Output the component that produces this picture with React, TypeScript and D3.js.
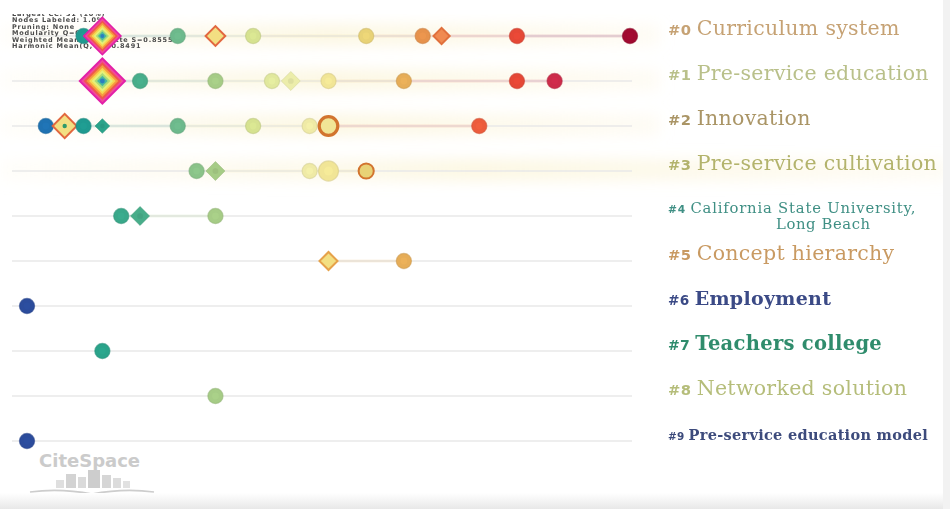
import React from 'react';
import * as d3 from 'd3';

const W = 950;
const H = 509;

const clusterIds = [0, 1, 2, 3, 4, 5, 6, 7, 8, 9];
const clusterLabels = [
  'Curriculum system',
  'Pre-service education',
  'Innovation',
  'Pre-service cultivation',
  'California State University,|Long Beach',
  'Concept hierarchy',
  'Employment',
  'Teachers college',
  'Networked solution',
  'Pre-service education model',
];
const labelColors = ['#c6a274', '#b9c08a', '#aa9566', '#b3b36c', '#3f8f84', '#c99a62', '#3b4a86', '#2f8c6c', '#b5bd7a', '#3d4b7c'];
const labelSizes = [20.5, 20.5, 20.5, 20.5, 14.8, 20.5, 19, 19.5, 20.5, 14.5];
const labelBold = [false, false, false, false, false, false, true, true, false, true];

const yearStops = [1990, 1991, 1993, 1994, 1996, 1998, 2000, 2002, 2004, 2005, 2006, 2008, 2010, 2011, 2012, 2014, 2016, 2018, 2022];
const yearColors = ['#2c4c9c', '#1f72b2', '#1f9a90', '#2aa38a', '#48ad8a', '#6db98c', '#a6cc86', '#d6e290', '#ecedaa', '#efeaa6', '#f1e596', '#e8d276', '#e6ad58', '#e6924c', '#ea7c46', '#ec5c3c', '#e54836', '#cc2c4a', '#a00a30'];

// nodes
const nodeCluster = [
  0, 0, 0, 0, 0, 0, 0, 0, 0, 0,
  1, 1, 1, 1, 1, 1, 1, 1, 1,
  2, 2, 2, 2, 2, 2, 2, 2, 2,
  3, 3, 3, 3, 3,
  4, 4, 4,
  5, 5,
  6, 7, 8, 9,
];
const nodeYear = [
  1993, 1994, 1998, 2000, 2002, 2008, 2011, 2012, 2016, 2022,
  1994, 1996, 2000, 2003, 2004, 2006, 2010, 2016, 2018,
  1991, 1992, 1993, 1994, 1998, 2002, 2005, 2006, 2014,
  1999, 2000, 2005, 2006, 2008,
  1995, 1996, 2000,
  2006, 2010,
  1990, 1994, 2000, 1990,
];
const nodeShape = [
  'c', 'd', 'c', 'd', 'c', 'c', 'c', 'd', 'c', 'c',
  'd', 'c', 'c', 'c', 'd', 'c', 'c', 'c', 'c',
  'c', 'd', 'c', 'd', 'c', 'c', 'c', 'c', 'c',
  'c', 'd', 'c', 'c', 'c',
  'c', 'd', 'c',
  'd', 'c',
  'c', 'c', 'c', 'c',
];
const nodeCitations = [
  4, 27, 4, 7, 4, 4, 4, 5, 4, 4,
  40, 4, 4, 4, 5, 4, 4, 4, 4,
  4, 10, 4, 3, 4, 4, 4, 6, 4,
  4, 5, 4, 7, 4,
  4, 5, 4,
  6, 4,
  4, 4, 4, 4,
];
const nodeRing = [
  '', 'hub', '', 'burst', '', '', '', 'burst', '', '',
  'hub', '', '', '', '', '', '', '', '',
  '', 'burst', '', '', '', '', '', 'burst', '',
  '', '', '', '', 'burst',
  '', '', '',
  'burst', '',
  '', '', '', '',
];

const infoLines = [
  'Largest CC: 31 (10%)',
  'Nodes Labeled: 1.0%',
  'Pruning: None',
  'Modularity Q=0.8428',
  'Weighted Mean Silhouette S=0.8555',
  'Harmonic Mean(Q, S)=0.8491',
];

const hubLayers = ['#e21fa8', '#f0489c', '#f0584a', '#f59a40', '#f7d750', '#e6f07a', '#a8dc78', '#4ab8a0'];

export default function App() {
  const x = d3.scaleLinear().domain([1990, 2022]).range([27, 630]);
  const y = d3.scalePoint<number>().domain(clusterIds).range([36, 441]);
  const color = d3.scaleLinear<string>().domain(yearStops).range(yearColors).interpolate(d3.interpolateRgb);
  const size = d3.scaleSqrt().domain([0, 40]).range([0, 24]);

  const nodes = nodeYear.map((yr, i) => ({
    i,
    cluster: nodeCluster[i],
    year: yr,
    shape: nodeShape[i],
    r: size(nodeCitations[i]),
    ring: nodeRing[i],
    cx: x(yr),
    cy: y(nodeCluster[i]) as number,
    c: color(yr),
  }));

  const diamond = (s: number) => `M0,${-s}L${s},0L0,${s}L${-s},0Z`;

  const links: { x1: number; x2: number; y: number; c: string }[] = [];
  clusterIds.forEach((cid) => {
    const ns = nodes.filter((n) => n.cluster === cid).sort((a, b) => a.year - b.year);
    for (let k = 1; k < ns.length; k++) {
      links.push({ x1: ns[k - 1].cx, x2: ns[k].cx, y: ns[k].cy, c: ns[k].c });
    }
  });

  const drawNode = (n: any) => {
    const darker = d3.color(n.c)!.darker(0.35).toString();
    if (n.ring === 'hub') {
      const L = hubLayers.length;
      return (
        <g key={n.i} transform={`translate(${n.cx},${n.cy})`}>
          {hubLayers.map((hc, k) => (
            <path key={k} d={diamond(n.r * (1 - k / (L + 1)))} fill={hc} />
          ))}
          <circle r={Math.max(2, n.r * 0.1)} fill="#2a7fc0" />
        </g>
      );
    }
    if (n.shape === 'd') {
      const s = n.r * 1.12;
      if (n.ring === 'burst') {
        const outer = n.year >= 2010 ? '#e0703c' : n.year >= 2005 ? '#e6a24a' : '#e2673e';
        const inner = n.year >= 2010 ? '#f08a50' : '#f3df82';
        return (
          <g key={n.i} transform={`translate(${n.cx},${n.cy})`}>
            <path d={diamond(s)} fill={outer} />
            <path d={diamond(s - 2.8)} fill={inner} />
            {n.year < 1995 && <circle r={2.2} fill="#2f9a6a" />}
          </g>
        );
      }
      return (
        <g key={n.i} transform={`translate(${n.cx},${n.cy})`}>
          <path d={diamond(s)} fill={n.c} stroke={darker} strokeWidth={1} strokeOpacity={0.5} />
          <circle r={s * 0.3} fill={darker} opacity={0.5} />
        </g>
      );
    }
    if (n.ring === 'burst') {
      return (
        <g key={n.i} transform={`translate(${n.cx},${n.cy})`}>
          <circle r={n.r} fill={n.c} stroke="#d2742e" strokeWidth={n.r > 8 ? 3.2 : 2} />
        </g>
      );
    }
    return (
      <g key={n.i} transform={`translate(${n.cx},${n.cy})`}>
        <circle r={n.r} fill={n.c} stroke={darker} strokeWidth={1.2} strokeOpacity={0.6} />
        <circle r={n.r * 0.45} fill={d3.color(n.c)!.brighter(0.2).toString()} opacity={0.35} />
      </g>
    );
  };

  return (
    <svg width={W} height={H} style={{ position: 'absolute', left: 0, top: 0, background: '#fff' }}>
      <defs>
        <clipPath id="chartClip">
          <rect x={0} y={14} width={W} height={H - 14} />
        </clipPath>
        <linearGradient id="bottomFade" x1="0" y1="0" x2="0" y2="1">
          <stop offset="0" stopColor="#ffffff" />
          <stop offset="1" stopColor="#e8e8e8" />
        </linearGradient>
        <linearGradient id="glow" x1="0" y1="0" x2="1" y2="0">
          <stop offset="0" stopColor="#fbf5dd" stopOpacity={0.2} />
          <stop offset="0.5" stopColor="#fbf3d4" stopOpacity={0.8} />
          <stop offset="1" stopColor="#fbf3d4" stopOpacity={0.3} />
        </linearGradient>
        <filter id="soft" x="-10%" y="-100%" width="120%" height="300%">
          <feGaussianBlur stdDeviation="7" />
        </filter>
      </defs>
      <g clipPath="url(#chartClip)">
        {/* soft bands */}
        <g filter="url(#soft)">
          {[0, 1, 2, 3].map((cid) => (
            <rect key={cid} x={0} y={(y(cid) as number) - 12} width={cid === 3 ? 950 : 660} height={22} fill="url(#glow)" opacity={0.8} />
          ))}
        </g>
        {/* row lines */}
        {clusterIds.map((cid) => (
          <line key={cid} x1={12} x2={632} y1={y(cid) as number} y2={y(cid) as number} stroke="#e8e8e8" strokeWidth={1.4} />
        ))}
        {/* links */}
        {links.map((l, k) => (
          <line key={k} x1={l.x1} x2={l.x2} y1={l.y} y2={l.y} stroke={l.c} strokeOpacity={0.14} strokeWidth={3} />
        ))}
        {/* info text */}
        <g fontFamily="DejaVu Sans, sans-serif" fontSize={6.5} fill="#4a4a4a" fontWeight="bold" letterSpacing={0.8}>
          {infoLines.map((t, k) => (
            <text key={k} x={12} y={16 + k * 6.4}>{t}</text>
          ))}
        </g>
        {/* nodes: draw non-hubs, then hubs */}
        {nodes.filter((n) => n.ring !== 'hub').map(drawNode)}
        {nodes.filter((n) => n.ring === 'hub').map(drawNode)}
      </g>
      {/* cluster labels */}
      {clusterIds.map((cid) => {
        const yy = y(cid) as number;
        const parts = clusterLabels[cid].split('|');
        const fs = labelSizes[cid];
        return (
          <g key={cid} fill={labelColors[cid]}>
            <text x={668} y={parts.length > 1 ? yy - 3 : yy - 1} fontFamily="DejaVu Serif, serif" fontSize={fs} fontWeight={labelBold[cid] ? 'bold' : 'normal'} letterSpacing={parts.length > 1 ? 0.8 : 0.3}>
              <tspan fontFamily="DejaVu Sans, sans-serif" fontWeight="bold" fontSize={fs * 0.72}>{`#${cid} `}</tspan>
              <tspan>{parts[0]}</tspan>
            </text>
            {parts.length > 1 && (
              <text x={776} y={yy + 13} fontFamily="DejaVu Serif, serif" fontSize={fs} letterSpacing={0.6}>{parts[1]}</text>
            )}
          </g>
        );
      })}
      {/* CiteSpace logo */}
      <g opacity={0.9}>
        <text x={39} y={467} fontFamily="DejaVu Sans, sans-serif" fontSize={18} fontWeight="bold" fill="#c6c6c6">CiteSpace</text>
        <rect x={66} y={474} width={10} height={14} fill="#cfcfcf" />
        <rect x={78} y={477} width={8} height={11} fill="#d6d6d6" />
        <rect x={88} y={470} width={12} height={18} fill="#c8c8c8" />
        <rect x={102} y={475} width={9} height={13} fill="#d2d2d2" />
        <rect x={113} y={478} width={8} height={10} fill="#d9d9d9" />
        <rect x={56} y={480} width={8} height={8} fill="#dcdcdc" />
        <rect x={123} y={481} width={7} height={7} fill="#dedede" />
        <path d="M30,492 Q60,488 92,494 Q124,488 154,492" fill="none" stroke="#c8c8c8" strokeWidth={1.6} />
        <path d="M28,497 Q60,493 92,499 Q124,493 156,497" fill="none" stroke="#cfcfcf" strokeWidth={1.6} />
      </g>
      {/* bottom fade and right edge */}
      <rect x={0} y={493} width={W} height={16} fill="url(#bottomFade)" />
      <rect x={943} y={0} width={7} height={H} fill="#f2f2f2" />
    </svg>
  );
}
